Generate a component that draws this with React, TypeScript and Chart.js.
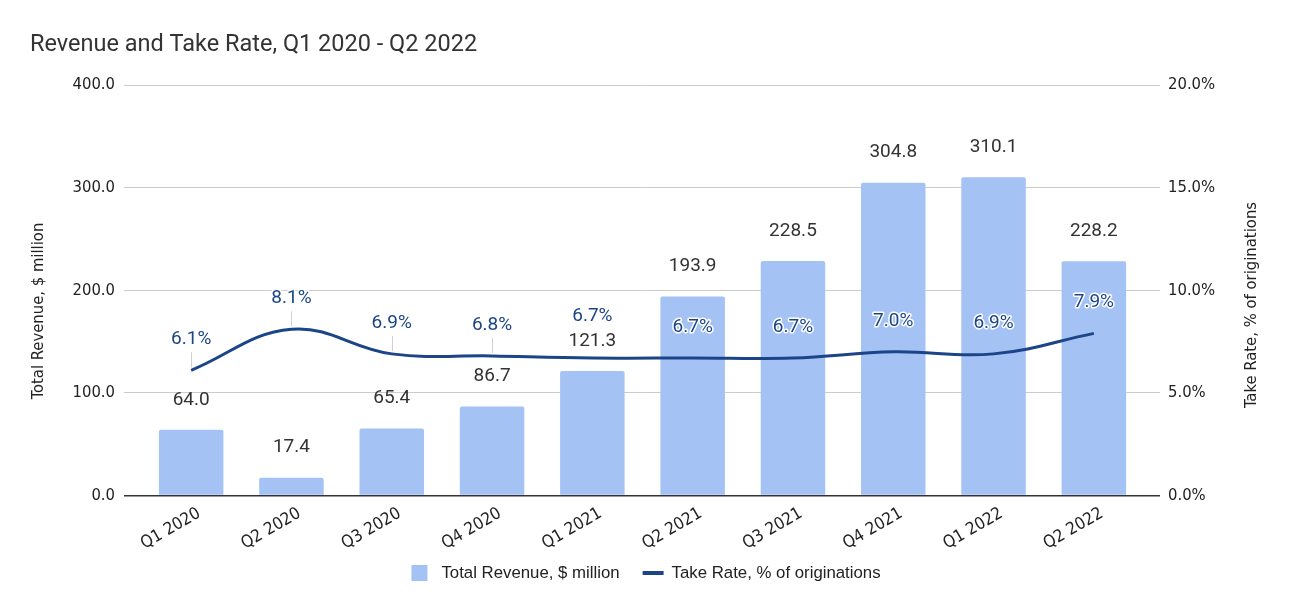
import { useEffect, useRef } from "react";
import { Chart, registerables } from "chart.js";

Chart.register(...registerables);

const categories = ["Q1 2020", "Q2 2020", "Q3 2020", "Q4 2020", "Q1 2021", "Q2 2021", "Q3 2021", "Q4 2021", "Q1 2022", "Q2 2022"];
const revenue = [64.0, 17.4, 65.4, 86.7, 121.3, 193.9, 228.5, 304.8, 310.1, 228.2];
const takeRate = [6.1, 8.1, 6.9, 6.8, 6.7, 6.7, 6.7, 7.0, 6.9, 7.9];
const revenueTicks = [0, 100, 200, 300, 400];
const rateTicks = [0, 5, 10, 15, 20];

const TITLE = "Revenue and Take Rate, Q1 2020 - Q2 2022";
const REV_LABEL = "Total Revenue, $ million";
const RATE_LABEL = "Take Rate, % of originations";

const BAR_COLOR = "#a4c2f4";
const LINE_COLOR = "#1c4587";
const GRID = "#cccccc";
const TICK_FONT = "'DejaVu Sans Condensed', 'DejaVu Sans', sans-serif";

const labelsPlugin = {
  id: "valueLabels",
  afterDatasetsDraw(chart: any) {
    const ctx = chart.ctx;
    const barMeta = chart.getDatasetMeta(0);
    const lineMeta = chart.getDatasetMeta(1);
    ctx.save();
    ctx.textAlign = "center";
    ctx.textBaseline = "middle";
    ctx.font = "19px Roboto";
    const barLabelY: number[] = [];
    barMeta.data.forEach((el: any, i: number) => {
      const y = el.y - 30;
      barLabelY.push(y);
      ctx.fillStyle = "#333333";
      ctx.fillText(revenue[i].toFixed(1), el.x, y);
    });
    lineMeta.data.forEach((pt: any, i: number) => {
      let y = pt.y - 31;
      let shifted = false;
      if (Math.abs(y - barLabelY[i]) < 22) {
        y = barLabelY[i] - 25;
        shifted = true;
      }
      const barEl = barMeta.data[i];
      if (!shifted && pt.y < barEl.y) {
        ctx.strokeStyle = "#d0d0d0";
        ctx.lineWidth = 1;
        ctx.beginPath();
        ctx.moveTo(Math.round(pt.x) + 0.5, y + 13);
        ctx.lineTo(Math.round(pt.x) + 0.5, pt.y - 3);
        ctx.stroke();
      }
      const txt = takeRate[i].toFixed(1) + "%";
      ctx.lineJoin = "round";
      ctx.lineWidth = 3;
      ctx.strokeStyle = "#ffffff";
      ctx.strokeText(txt, pt.x, y);
      ctx.fillStyle = LINE_COLOR;
      ctx.fillText(txt, pt.x, y);
    });
    ctx.restore();
  },
};

const decorPlugin = {
  id: "decor",
  afterDraw(chart: any) {
    const ctx = chart.ctx;
    ctx.save();
    // Title
    ctx.font = "23.5px Roboto";
    ctx.fillStyle = "#333333";
    ctx.textAlign = "left";
    ctx.textBaseline = "alphabetic";
    ctx.fillText(TITLE, 30, 51);

    // Axis titles (both read bottom-to-top)
    ctx.font = `16.5px ${TICK_FONT}`;
    ctx.fillStyle = "#222222";
    ctx.textAlign = "center";
    ctx.textBaseline = "middle";
    ctx.save();
    ctx.translate(39, 311);
    ctx.rotate(-Math.PI / 2);
    ctx.fillText(REV_LABEL, 0, 0);
    ctx.restore();
    ctx.save();
    ctx.translate(1252, 305);
    ctx.rotate(-Math.PI / 2);
    ctx.fillText(RATE_LABEL, 0, 0);
    ctx.restore();

    // Legend
    ctx.font = "16.8px 'Liberation Sans'";
    ctx.textAlign = "left";
    ctx.textBaseline = "middle";
    const t1 = chart.data.datasets[0].label;
    const t2 = chart.data.datasets[1].label;
    const w1 = ctx.measureText(t1).width;
    const w2 = ctx.measureText(t2).width;
    const total = 16 + 14 + w1 + 23 + 21 + 8 + w2;
    let x = 646 - total / 2;
    const cy = 573;
    ctx.fillStyle = BAR_COLOR;
    ctx.fillRect(x, cy - 8, 16, 16);
    x += 30;
    ctx.fillStyle = "#222222";
    ctx.fillText(t1, x, cy);
    x += w1 + 23;
    ctx.fillStyle = LINE_COLOR;
    ctx.fillRect(x, cy - 2, 21, 4);
    x += 29;
    ctx.fillStyle = "#222222";
    ctx.fillText(t2, x, cy);
    ctx.restore();
  },
};

export default function App() {
  const ref = useRef<HTMLCanvasElement | null>(null);
  useEffect(() => {
    if (!ref.current) return;
    const chart = new Chart(ref.current, {
      type: "bar",
      data: {
        labels: categories,
        datasets: [
          {
            type: "bar",
            label: REV_LABEL,
            data: revenue,
            backgroundColor: BAR_COLOR,
            borderRadius: 2,
            borderSkipped: "bottom",
            categoryPercentage: 1,
            barPercentage: 0.643,
            yAxisID: "y",
            order: 1,
          },
          {
            type: "line",
            label: RATE_LABEL,
            data: takeRate,
            borderColor: LINE_COLOR,
            backgroundColor: LINE_COLOR,
            borderWidth: 3,
            pointRadius: 0,
            tension: 0.4,
            yAxisID: "y1",
            order: 0,
          },
        ] as any,
      },
      options: {
        animation: false,
        responsive: true,
        maintainAspectRatio: false,
        layout: { padding: { left: 30, right: 31, top: 85, bottom: 56.5 } },
        plugins: {
          legend: { display: false },
          title: { display: false },
          tooltip: { enabled: false },
        },
        scales: {
          x: {
            offset: true,
            grid: { display: false, drawTicks: false },
            border: { display: false },
            ticks: {
              maxRotation: 30,
              minRotation: 30,
              padding: 8,
              labelOffset: 8,
              color: "#222222",
              font: { family: TICK_FONT, size: 17 },
            },
            afterFit(scale: any) {
              scale.height = 60;
            },
          },
          y: {
            position: "left",
            min: revenueTicks[0],
            max: revenueTicks[revenueTicks.length - 1],
            afterBuildTicks(scale: any) {
              scale.ticks = revenueTicks.map((v) => ({ value: v }));
            },
            grid: {
              color: (c: any) => (c.tick && c.tick.value === 0 ? "#333333" : GRID),
              lineWidth: (c: any) => (c.tick && c.tick.value === 0 ? 1.5 : 1),
              tickLength: 17,
            },
            border: { display: false },
            ticks: {
              padding: 9,
              color: "#222222",
              font: { family: TICK_FONT, size: 16.5 },
              callback: (v: any) => Number(v).toFixed(1),
            },
            title: { display: false },
            afterFit(scale: any) {
              scale.width = 111;
            },
          },
          y1: {
            position: "right",
            min: rateTicks[0],
            max: rateTicks[rateTicks.length - 1],
            afterBuildTicks(scale: any) {
              scale.ticks = rateTicks.map((v) => ({ value: v }));
            },
            grid: {
              drawOnChartArea: false,
              color: (c: any) => (c.tick && c.tick.value === 0 ? "#333333" : GRID),
              lineWidth: (c: any) => (c.tick && c.tick.value === 0 ? 1.5 : 1),
              tickLength: 16,
            },
            border: { display: false },
            ticks: {
              padding: 8,
              color: "#222222",
              font: { family: TICK_FONT, size: 16.5 },
              callback: (v: any) => Number(v).toFixed(1) + "%",
            },
            title: { display: false },
            afterFit(scale: any) {
              scale.width = 117;
            },
          },
        },
      } as any,
      plugins: [labelsPlugin, decorPlugin],
    });
    return () => chart.destroy();
  }, []);
  return (
    <div style={{ position: "fixed", left: 0, top: 0, width: 1292, height: 612, background: "#ffffff" }}>
      <canvas ref={ref} />
    </div>
  );
}
